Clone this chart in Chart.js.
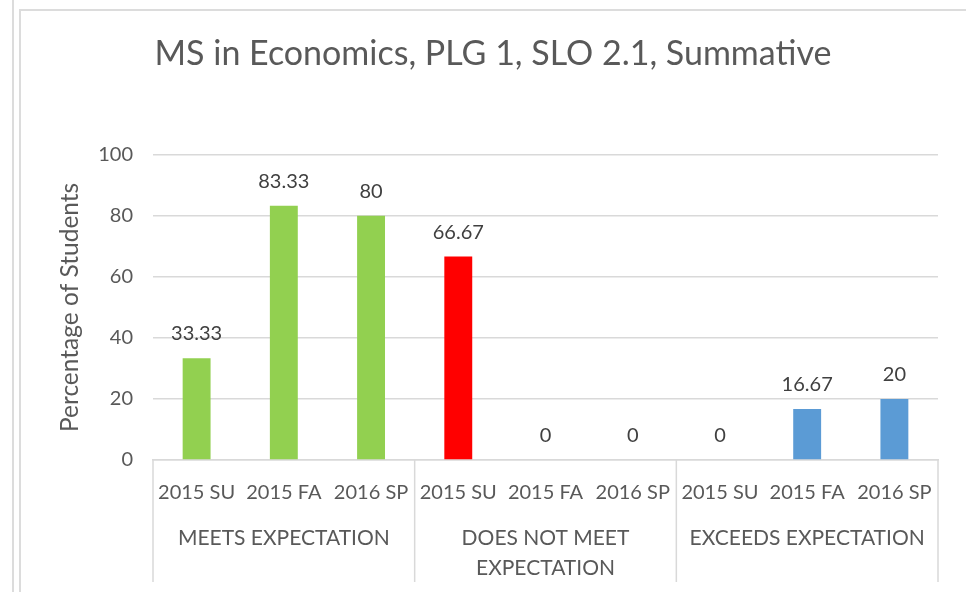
<!DOCTYPE html>
<html>
<head>
<meta charset="utf-8">
<script src="https://cdn.jsdelivr.net/npm/chart.js@4.4.1/dist/chart.umd.min.js"></script>
<style>
  html, body { margin: 0; padding: 0; background: #fff; overflow: hidden; }
  body { width: 966px; height: 592px; position: relative; }
  #edge { position: absolute; left: 12px; top: 0; width: 2px; height: 592px; background: #dcdcdc; }
  #frame { position: absolute; left: 19px; top: 9px; width: 947px; height: 583px;
           border-left: 2px solid #dcdcdc; border-top: 2px solid #dcdcdc; }
  #wrap { position: absolute; left: 48px; top: 0; width: 918px; height: 592px; }
</style>
</head>
<body>
<div id="edge"></div>
<div id="frame"></div>
<div id="wrap"><canvas id="chart" width="918" height="592"></canvas></div>
<script>
// Chart data
const periods = ['2015 SU', '2015 FA', '2016 SP', '2015 SU', '2015 FA', '2016 SP', '2015 SU', '2015 FA', '2016 SP'];
const groups = ['MEETS EXPECTATION', ['DOES NOT MEET', 'EXPECTATION'], 'EXCEEDS EXPECTATION'];
const percentages = [33.33, 83.33, 80, 66.67, 0, 0, 0, 16.67, 20];
const groupColors = ['#92D050', '#FF0000', '#5B9BD5'];
const yMin = 0;
const yMax = 100;
const yStep = 20;

const textColor = '#595959';
const lineColor = '#d9d9d9';
const perGroup = periods.length / groups.length;

// Value labels above each bar
const valueLabels = {
  id: 'valueLabels',
  afterDatasetsDraw(chart) {
    const ctx = chart.ctx;
    const meta = chart.getDatasetMeta(0);
    ctx.save();
    ctx.font = '20px Lato';
    ctx.fillStyle = '#404040';
    ctx.textAlign = 'center';
    ctx.textBaseline = 'alphabetic';
    meta.data.forEach((bar, i) => {
      ctx.fillText(String(percentages[i]), bar.x, bar.y - 18);
    });
    ctx.restore();
  }
};

// Vertical separators between the category groups
const groupSeparators = {
  id: 'groupSeparators',
  afterDraw(chart) {
    const x = chart.scales.x;
    const x2 = chart.scales.x2;
    const half = (x.getPixelForValue(1) - x.getPixelForValue(0)) / 2;
    const ctx = chart.ctx;
    ctx.save();
    ctx.strokeStyle = lineColor;
    ctx.lineWidth = 1.5;
    for (let i = 0; i <= periods.length; i += perGroup) {
      const px = i < periods.length ? x.getPixelForValue(i) - half : x.getPixelForValue(i - 1) + half;
      ctx.beginPath();
      ctx.moveTo(px, chart.chartArea.bottom);
      ctx.lineTo(px, x2.bottom);
      ctx.stroke();
    }
    ctx.restore();
  }
};

new Chart(document.getElementById('chart'), {
  type: 'bar',
  data: {
    labels: periods,
    datasets: [{
      data: percentages,
      backgroundColor: periods.map((p, i) => groupColors[Math.floor(i / perGroup)]),
      barPercentage: 0.32,
      categoryPercentage: 1
    }]
  },
  options: {
    responsive: false,
    animation: false,
    layout: { padding: { left: 0, right: 28, top: 0, bottom: 10 } },
    plugins: {
      legend: { display: false },
      tooltip: { enabled: false },
      title: {
        display: true,
        text: 'MS in Economics, PLG 1, SLO 2.1, Summative',
        color: textColor,
        font: { family: 'Lato', size: 34, weight: 'normal' },
        padding: { top: 34, bottom: 80 }
      }
    },
    scales: {
      x: {
        offset: true,
        grid: { display: false },
        border: { color: lineColor, width: 1.5 },
        ticks: {
          color: textColor,
          font: { family: 'Lato', size: 20 },
          padding: 13,
          maxRotation: 0,
          autoSkip: false
        },
        afterFit: s => { s.height = 52; }
      },
      x2: {
        type: 'category',
        position: 'bottom',
        labels: groups,
        offset: true,
        grid: { display: false },
        border: { display: false },
        ticks: {
          color: textColor,
          font: { family: 'Lato', size: 21, lineHeight: 1.4 },
          padding: 4,
          maxRotation: 0,
          autoSkip: false
        },
        afterFit: s => { s.height = 70; }
      },
      y: {
        min: yMin,
        max: yMax,
        grid: { color: lineColor, lineWidth: 1.5, drawTicks: false },
        border: { display: false },
        ticks: {
          stepSize: yStep,
          color: textColor,
          font: { family: 'Lato', size: 20 },
          padding: 20
        },
        title: {
          display: true,
          text: 'Percentage of Students',
          color: textColor,
          font: { family: 'Lato', size: 24.5 },
          padding: { top: 7, bottom: 0 }
        },
        afterFit: s => { s.width = 105; }
      }
    }
  },
  plugins: [valueLabels, groupSeparators]
});
</script>
</body>
</html>
